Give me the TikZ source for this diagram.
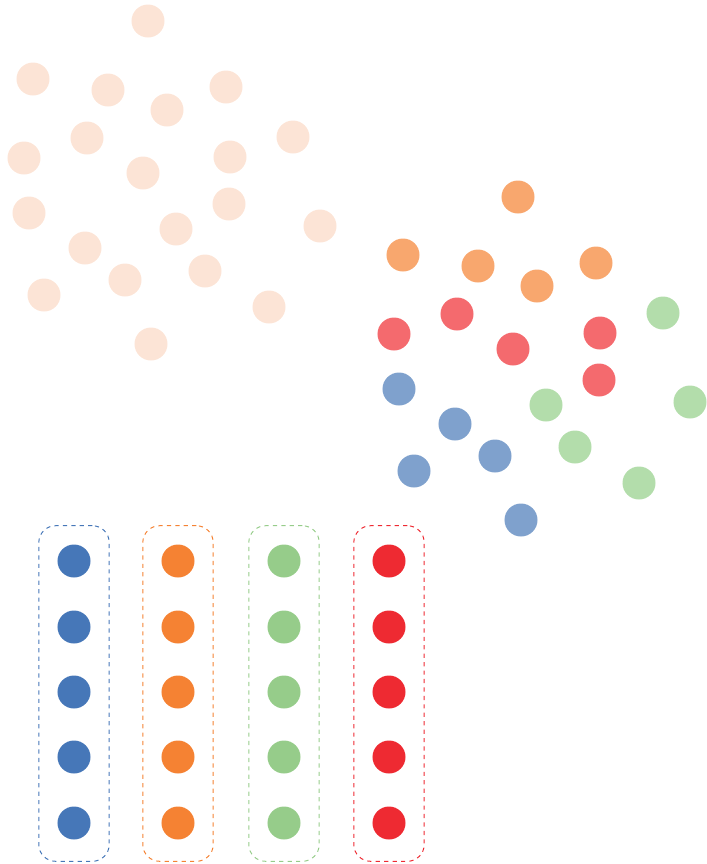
\documentclass[tikz,border=0pt]{standalone}
\usepackage{tikz}
\usetikzlibrary{positioning,fit,calc}
\definecolor{peach}{HTML}{FCE4D6}
\definecolor{orlight}{HTML}{F8A76E}
\definecolor{redlight}{HTML}{F46A6E}
\definecolor{bluelight}{HTML}{7FA1CD}
\definecolor{greenlight}{HTML}{B3DDAB}
\definecolor{colblue}{HTML}{4677B8}
\definecolor{colorange}{HTML}{F58233}
\definecolor{colgreen}{HTML}{96CC8A}
\definecolor{colred}{HTML}{EE2A32}
\begin{document}
\begin{tikzpicture}[
  x=0.025cm, y=-0.025cm,
  dot/.style={circle, draw=none, minimum size=0.825cm, inner sep=0pt},
  raw/.style={dot, fill=peach},
  grp/.style={draw=#1, dashed, rounded corners=0.42cm, line width=0.7pt, inner xsep=0.46cm, inner ysep=0.5cm, yshift=-0.0375cm},
]
\useasboundingbox (0,0) rectangle (707,864);
% unlabelled points
\foreach \i/\x/\y in {1/148/21, 2/33/79, 3/108/90, 4/167/110, 5/226/87,
  6/87/138, 7/24/158, 8/143/173, 9/230/157, 10/293/137,
  11/29/213, 12/229/204, 13/176/229, 14/320/226, 15/85/248,
  16/125/280, 17/205/271, 18/44/295, 19/269/307, 20/151/344}
  \node[raw] (p\i) at (\x,\y) {};
% same points after clustering
\foreach \i/\c in {1/orlight, 2/orlight, 3/orlight, 4/orlight, 5/orlight,
  6/redlight, 7/redlight, 8/redlight, 9/redlight, 10/greenlight,
  11/bluelight, 12/redlight, 13/greenlight, 14/greenlight, 15/bluelight,
  16/bluelight, 17/greenlight, 18/bluelight, 19/greenlight, 20/bluelight}
  \node[dot, fill=\c] (q\i) at ($(p\i)+(370,176)$) {};
% cluster columns
\foreach \k/\c/\x in {b/colblue/74, o/colorange/178, g/colgreen/284, r/colred/389} {
  \foreach \j/\y in {1/561, 2/627, 3/692, 4/757, 5/823}
    \node[dot, fill=\c] (c\k\j) at (\x,\y) {};
  \node[grp=\c, fit=(c\k1)(c\k5)] (box\k) {};
}
\end{tikzpicture}
\end{document}
